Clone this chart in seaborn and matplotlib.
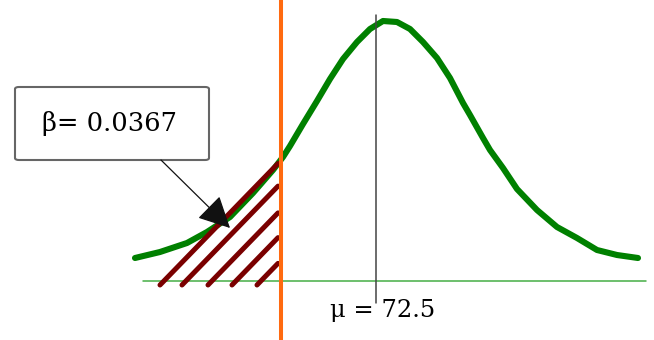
import numpy as np
import pandas as pd
import matplotlib
matplotlib.use("Agg")
import matplotlib.pyplot as plt
from matplotlib.patches import FancyBboxPatch
import seaborn as sns

# ---- data ----
mu = 72.5
beta = 0.0367
crit = 68.7
curve_x = [62.86, 63.86, 64.94, 65.74, 66.66, 67.58, 68.38, 68.78, 69.06, 69.58,
           70.14, 70.66, 71.18, 71.74, 72.26, 72.78, 73.34, 73.86, 74.38, 74.94,
           75.46, 75.98, 76.26, 76.78, 77.06, 77.58, 78.14, 78.94, 79.74, 80.54,
           81.34, 82.14, 82.98]
curve_y = [0.23, 0.29, 0.38, 0.49, 0.64, 0.88, 1.11, 1.24, 1.35, 1.57,
           1.80, 2.02, 2.22, 2.39, 2.52, 2.60, 2.59, 2.52, 2.39, 2.23,
           2.03, 1.78, 1.66, 1.43, 1.31, 1.13, 0.92, 0.71, 0.54, 0.43,
           0.31, 0.26, 0.23]
baseline_x = [63.18, 83.3]
hatch_starts = [63.86, 64.74, 65.78, 66.74, 67.74]
beta_label = "β= 0.0367"
mu_label = "μ = 72.5"

sns.set_theme(style="white")
plt.rcParams["font.family"] = ["DejaVu Serif", "DejaVu Sans"]

W, H = 654, 340
fig = plt.figure(figsize=(W / 100, H / 100), dpi=100)
ax = fig.add_axes([0, 0, 1, 1])
ax.set_xlim(72.5 - 376 / 25, 72.5 + 278 / 25)
ax.set_ylim(-0.59, 2.81)
ax.axis("off")

df = pd.DataFrame({"x": curve_x, "y": curve_y})

# baseline
ax.plot(baseline_x, [0, 0], color="#45AD45", lw=1.1, zorder=1)

# curve
sns.lineplot(data=df, x="x", y="y", ax=ax, color="#008000", lw=4.4,
             sort=False, zorder=3, solid_capstyle="round", solid_joinstyle="round")

# hatch lines of the beta region
slope = 1.03 * 25 / 100
x_end = crit - 0.12
for xs in hatch_starts:
    y0 = -0.04
    y1 = y0 + (x_end - xs) * slope
    yc = np.interp(x_end, curve_x, curve_y)
    y1 = min(y1, yc)
    ax.plot([xs, x_end], [y0, y1], color="#7A0000", lw=3.6,
            solid_capstyle="round", zorder=4)

# mean line
ax.plot([mu, mu], [-0.22, 2.66], color="#444444", lw=1.1, zorder=5)

# critical value line
ax.axvline(crit, color="#FF6A10", lw=2.9, zorder=6)


def fx(px):
    return px / W


def fy(py):
    return 1 - py / H


# text box
box = FancyBboxPatch((fx(15), fy(160)), 194 / W, 73 / H,
                     boxstyle="round,pad=0,rounding_size=0.006",
                     transform=ax.transAxes, facecolor="white",
                     edgecolor="#666666", lw=1.5, zorder=7)
ax.add_patch(box)
ax.text(fx(110), fy(123), beta_label, transform=ax.transAxes,
        ha="center", va="center", fontsize=18.5, color="black", zorder=8)

# arrow
ax.annotate("", xy=(fx(230), fy(228)), xytext=(fx(161), fy(160)),
            xycoords="axes fraction", textcoords="axes fraction",
            arrowprops=dict(arrowstyle="-|>,head_length=1.65,head_width=0.83",
                            color="#111111", lw=0.9, shrinkA=0, shrinkB=0),
            zorder=8)

# mu label
ax.text(fx(383), fy(311), mu_label, transform=ax.transAxes,
        ha="center", va="center", fontsize=17.5, color="black", zorder=8)

fig.savefig("out.png", dpi=100, facecolor="white")
